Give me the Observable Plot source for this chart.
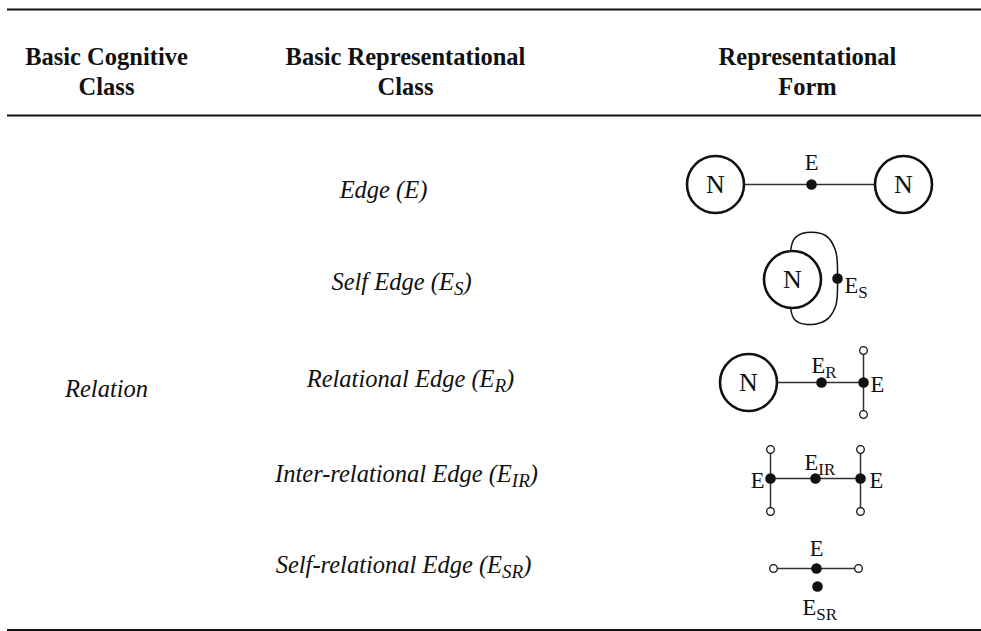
<!DOCTYPE html>
<html>
<head>
<meta charset="utf-8">
<script src="https://cdn.jsdelivr.net/npm/d3@7"></script>
<script src="https://cdn.jsdelivr.net/npm/@observablehq/plot@0.6"></script>
<style>
  html, body { margin: 0; padding: 0; background: #fff; overflow: hidden; }
  #chart svg { display: block; }
</style>
</head>
<body>
<div id="chart"></div>
<script>
// ---------- content ----------
const columnHeaders = ["Basic Cognitive\nClass", "Basic Representational\nClass", "Representational\nForm"];
const cognitiveClasses = ["Relation"];
const representationalClasses = [
  "Edge (E)",
  "Self Edge (E_S)",
  "Relational Edge (E_R)",
  "Inter-relational Edge (E_IR)",
  "Self-relational Edge (E_SR)"
];

// ---------- layout (table geometry, in page units) ----------
const headerX = [106, 405, 807];
const headerY = 70;
const relationPos = {x: 106, y: 389};
const classX = [383, 401, 410, 406, 403];
const classY = [190, 282, 379, 474, 565];
const tableRules = [
  {y: 9, w: 2.2},
  {y: 115, w: 2.2},
  {y: 629.5, w: 2.2}
];

// diagram parts: named nodes (N), edges, filled edge points, open end points, labels
const bigNodes = [
  {x: 715, y: 184}, {x: 903, y: 184},
  {x: 792, y: 279},
  {x: 748, y: 382}
];
const selfLoop = [
  {x: 790, y: 251}, {x: 794, y: 238}, {x: 806, y: 232}, {x: 825, y: 235},
  {x: 835, y: 250}, {x: 837, y: 278}, {x: 835, y: 306}, {x: 825, y: 320},
  {x: 806, y: 324}, {x: 794, y: 319}, {x: 790, y: 307}
];
const edges = [
  {x1: 715, y1: 184, x2: 903, y2: 184},
  {x1: 748, y1: 382, x2: 863, y2: 382},
  {x1: 863, y1: 350, x2: 863, y2: 414},
  {x1: 770, y1: 478, x2: 860, y2: 478},
  {x1: 770, y1: 449, x2: 770, y2: 511},
  {x1: 860, y1: 449, x2: 860, y2: 511},
  {x1: 773, y1: 568, x2: 858, y2: 568}
];
const edgePoints = [
  {x: 811, y: 184}, {x: 837, y: 278}, {x: 821, y: 382}, {x: 863, y: 382},
  {x: 770, y: 478}, {x: 815, y: 478}, {x: 860, y: 478},
  {x: 816, y: 568}, {x: 817, y: 586}
];
const openEnds = [
  {x: 863, y: 350}, {x: 863, y: 414},
  {x: 770, y: 449}, {x: 770, y: 511}, {x: 860, y: 449}, {x: 860, y: 511},
  {x: 773, y: 568}, {x: 858, y: 568}
];
const diagramLabels = [
  {text: "E", x: 811, y: 169, anchor: "middle"},
  {text: "E_S", x: 844, y: 292, anchor: "start"},
  {text: "E_R", x: 811, y: 372, anchor: "start"},
  {text: "E", x: 870, y: 391, anchor: "start"},
  {text: "E", x: 764, y: 487, anchor: "end"},
  {text: "E_IR", x: 804, y: 469, anchor: "start"},
  {text: "E", x: 869, y: 487, anchor: "start"},
  {text: "E", x: 816, y: 555, anchor: "middle"},
  {text: "E_SR", x: 802, y: 614, anchor: "start"}
];

const serif = "'Liberation Serif', 'DejaVu Serif', serif";
const ink = "#111";

const labelMark = anchor => Plot.text(diagramLabels.filter(d => d.anchor === anchor), {
  x: "x", y: "y", text: "text", textAnchor: anchor,
  fontFamily: serif, fontSize: 22.5, lineAnchor: "bottom", fill: ink
});

const plot = Plot.plot({
  width: 981,
  height: 631,
  margin: 0,
  x: {type: "linear", domain: [0, 981], range: [0, 981], axis: null},
  y: {type: "linear", domain: [0, 631], range: [0, 631], axis: null},
  style: {background: "#fff", overflow: "visible"},
  marks: [
    Plot.ruleY(tableRules, {y: "y", x1: 7, x2: 981, stroke: ink, strokeWidth: "w"}),
    Plot.text(columnHeaders, {
      x: (d, i) => headerX[i], y: headerY, text: d => d,
      fontFamily: serif, fontWeight: "bold", fontSize: 24.5, lineHeight: 1.24,
      textAnchor: "middle", lineAnchor: "middle", fill: ink
    }),
    Plot.text(cognitiveClasses, {
      x: relationPos.x, y: relationPos.y, text: d => d,
      fontFamily: serif, fontStyle: "italic", fontSize: 24.5,
      textAnchor: "middle", lineAnchor: "middle", fill: ink
    }),
    Plot.text(representationalClasses, {
      x: (d, i) => classX[i], y: (d, i) => classY[i], text: d => d,
      fontFamily: serif, fontStyle: "italic", fontSize: 24.5,
      textAnchor: "middle", lineAnchor: "middle", fill: ink
    }),
    Plot.line(selfLoop, {x: "x", y: "y", curve: "catmull-rom", stroke: ink, strokeWidth: 1.5}),
    Plot.link(edges, {x1: "x1", y1: "y1", x2: "x2", y2: "y2", stroke: "#333", strokeWidth: 1.5}),
    Plot.dot(bigNodes, {x: "x", y: "y", r: 28.5, fill: "#fff", stroke: ink, strokeWidth: 2.6}),
    Plot.text(bigNodes, {x: "x", y: "y", text: () => "N", fontFamily: serif, fontSize: 26,
      textAnchor: "middle", lineAnchor: "middle", fill: ink}),
    Plot.dot(openEnds, {x: "x", y: "y", r: 3.8, fill: "#fff", stroke: ink, strokeWidth: 1.3}),
    Plot.dot(edgePoints, {x: "x", y: "y", r: 5.3, fill: ink, stroke: "none"}),
    labelMark("start"),
    labelMark("middle"),
    labelMark("end")
  ]
});

document.getElementById("chart").append(plot);

// turn "X_AB" into X with a real subscript AB
const NS = "http://www.w3.org/2000/svg";
plot.querySelectorAll("text").forEach(t => {
  if (t.querySelector("tspan")) return;
  const s = t.textContent;
  const m = s.match(/^(.*?)_([A-Z]+)(.*)$/);
  if (!m) return;
  const fs = parseFloat(getComputedStyle(t).fontSize) || 20;
  const sub = Math.round(fs * 0.76);
  const shift = Math.round(fs * 0.22);
  t.textContent = "";
  const a = document.createElementNS(NS, "tspan"); a.textContent = m[1];
  const b = document.createElementNS(NS, "tspan"); b.textContent = m[2];
  b.setAttribute("font-size", sub); b.setAttribute("dy", shift);
  t.append(a, b);
  if (m[3]) {
    const c = document.createElementNS(NS, "tspan"); c.textContent = m[3];
    c.setAttribute("dy", -shift);
    t.append(c);
  }
});
</script>
</body>
</html>
